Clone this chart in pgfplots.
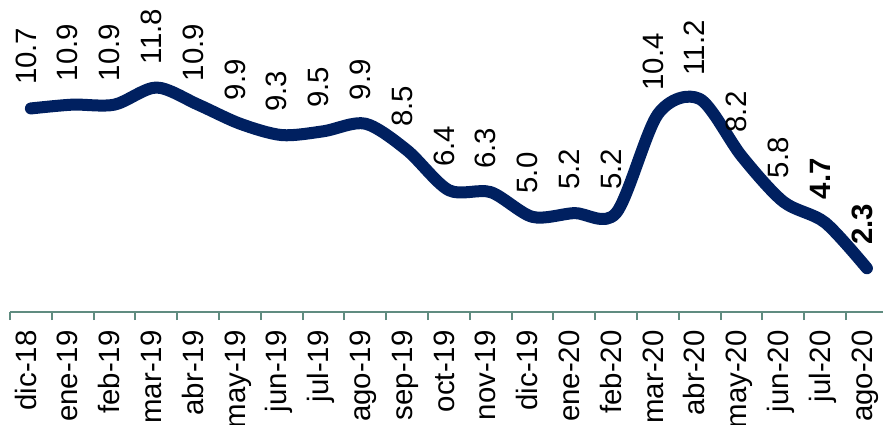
\documentclass[border=0pt]{standalone}
\usepackage{pgfplots}
\pgfplotsset{compat=1.18}
\usepackage{fontspec}
\setmainfont{Liberation Sans}
\definecolor{navy}{RGB}{0,32,96}
\definecolor{axisgreen}{RGB}{96,140,128}

\begin{document}
\begin{tikzpicture}
\begin{axis}[
    at={(0,0)}, anchor=south west,
    scale only axis, width=436.4pt, height=156pt,
    xmin=-0.5, xmax=20.38, ymin=0, ymax=16.4,
    axis x line*=bottom, axis y line=none,
    x axis line style={axisgreen, line width=1pt, -},
    xtick={0,...,20},
    xticklabels={dic-18,ene-19,feb-19,mar-19,abr-19,may-19,jun-19,jul-19,ago-19,sep-19,oct-19,nov-19,dic-19,ene-20,feb-20,mar-20,abr-20,may-20,jun-20,jul-20,ago-20},
    major tick length=0pt,
    minor xtick={-0.5,0.5,...,19.5},
    minor tick length=4pt,
    tick align=outside,
    minor tick style={axisgreen, line width=1pt},
    xticklabel style={rotate=90, anchor=east, inner sep=0pt, text height=0.72em, text depth=0.2em, font=\fontsize{14.7}{17}\selectfont},
    xticklabel shift=9pt,
    clip=false,
    nodes near coords={\pgfplotspointmeta},
    point meta=explicit symbolic,
    every node near coord/.append style={shift={(0pt,11.75pt)}, rotate=90, anchor=west, inner sep=0pt, outer sep=0pt, text height=0.72em, text depth=0.2em, font=\fontsize{14.7}{17}\selectfont, black},
]
\addplot[navy, line width=6pt, smooth, line cap=round, line join=round] coordinates {
    (0,10.7) [10.7]
    (1,10.9) [10.9]
    (2,10.9) [10.9]
    (3,11.8) [11.8]
    (4,10.9) [10.9]
    (5,9.9) [9.9]
    (6,9.3) [9.3]
    (7,9.5) [9.5]
    (8,9.9) [9.9]
    (9,8.5) [8.5]
    (10,6.4) [6.4]
    (11,6.3) [6.3]
    (12,5.0) [5.0]
    (13,5.2) [5.2]
    (14,5.2) [5.2]
    (15,10.4) [10.4]
    (16,11.2) [11.2]
    (17,8.2) [8.2]
    (18,5.8) [5.8]
    (19,4.7) [\textbf{4.7}]
    (20,2.3) [\textbf{2.3}]
};
\end{axis}
\pgfresetboundingbox
\path (-5pt,-56pt) rectangle (437pt,156pt);
\end{tikzpicture}
\end{document}
